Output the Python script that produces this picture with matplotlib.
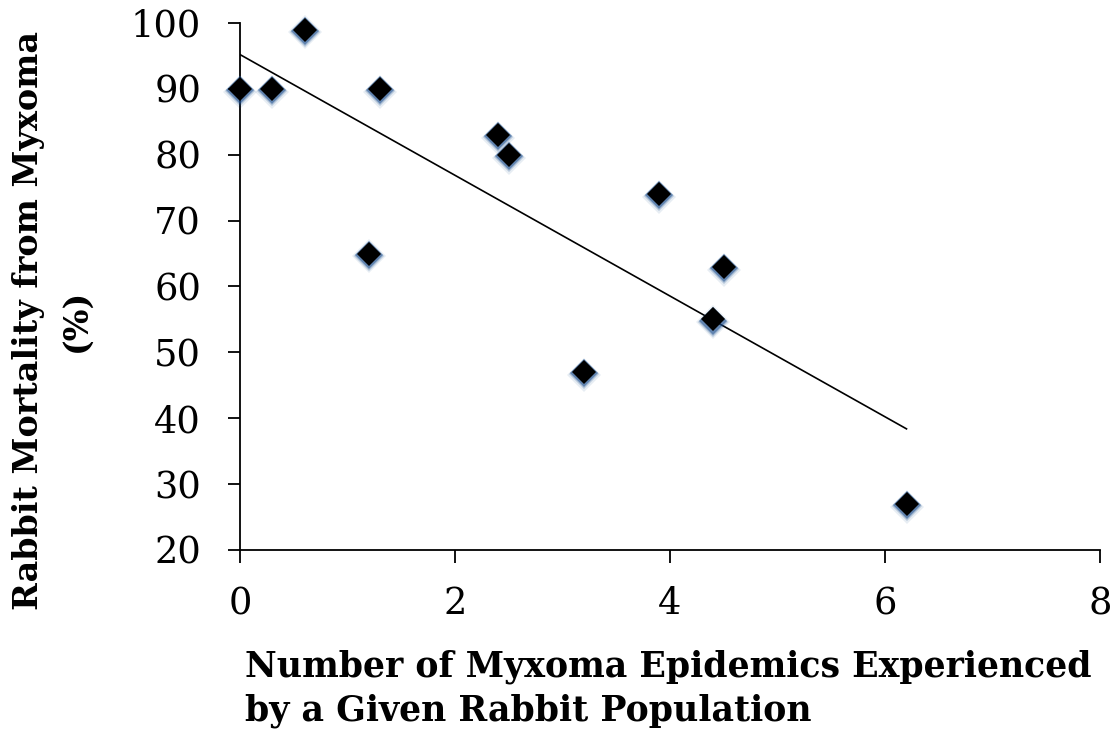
import numpy as np
import matplotlib
matplotlib.use("Agg")
import matplotlib.pyplot as plt
from matplotlib import transforms

epidemics = [0, 0.3, 0.6, 1.3, 1.2, 2.4, 2.5, 3.2, 3.9, 4.4, 4.5, 6.2]
mortality = [90, 90, 99, 90, 65, 83, 80, 47, 74, 55, 63, 27]
x_ticks = [0, 2, 4, 6, 8]
y_ticks = [20, 30, 40, 50, 60, 70, 80, 90, 100]
x_label = "Number of Myxoma Epidemics Experienced\nby a Given Rabbit Population"
y_label = "Rabbit Mortality from Myxoma\n(%)"

serif = ["DejaVu Serif"]

fig = plt.figure(figsize=(11.17, 7.40), dpi=100)
ax = fig.add_axes([240/1117, 1-550/740, 860/1117, 527/740])

x = np.array(epidemics)
y = np.array(mortality)
slope, intercept = np.polyfit(x, y, 1)
xs = np.array([0, x.max()])
ax.plot(xs, slope*xs + intercept, color="black", lw=1.2, zorder=2)

# glow / shadow
for dy, ms, a in [(-2.0, 17.5, 0.10), (-1.5, 15.5, 0.25), (-0.8, 14.2, 0.55)]:
    tr = transforms.offset_copy(ax.transData, fig=fig, x=0, y=dy, units="points")
    ax.plot(x, y, linestyle="none", marker="D", markersize=ms, color="#1d4f8f",
            markeredgewidth=0, alpha=a, transform=tr, zorder=3, clip_on=False)
ax.plot(x, y, linestyle="none", marker="D", markersize=12.5, color="black",
        markeredgewidth=0, zorder=4, clip_on=False)

ax.set_xlim(0, 8)
ax.set_ylim(20, 100)
ax.set_xticks(x_ticks)
ax.set_yticks(y_ticks)
for s in ["top", "right"]:
    ax.spines[s].set_visible(False)
for s in ["left", "bottom"]:
    ax.spines[s].set_linewidth(1.3)
ax.tick_params(axis="both", direction="out", length=9, width=1.3, labelsize=26.5)
ax.tick_params(axis="y", pad=19)
ax.tick_params(axis="x", pad=17)
for lab in ax.get_xticklabels() + ax.get_yticklabels():
    lab.set_family(serif)

fig.text(245/1117, 1-650/740, x_label, ha="left", va="top", fontsize=25,
         fontweight="bold", family=serif, linespacing=1.35)
fig.text(52/1117, 1-320/740, y_label, ha="center", va="center", rotation=90,
         fontsize=24, fontweight="bold", family=serif, linespacing=1.55, multialignment="center")

fig.savefig("out.png", dpi=100)
